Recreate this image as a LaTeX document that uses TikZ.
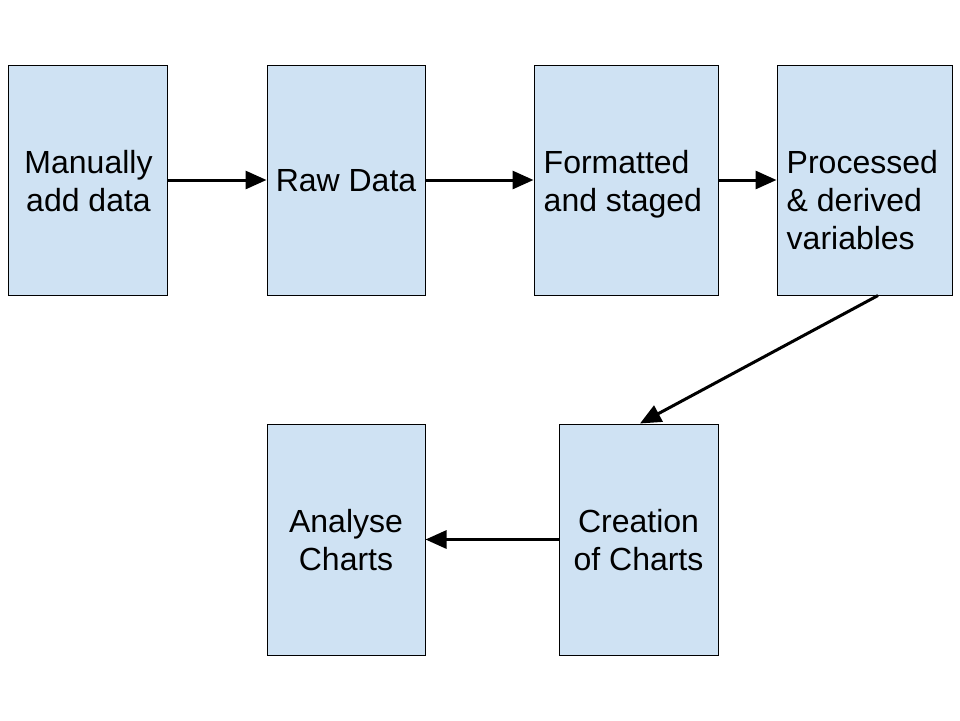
\documentclass[tikz,border=0pt]{standalone}
\usepackage{fontspec}
\setmainfont{Liberation Sans}
\usetikzlibrary{arrows.meta,calc}
\definecolor{boxfill}{HTML}{CFE2F3}
\tikzset{
  flowbox/.style={draw=black, line width=1pt, fill=boxfill, rectangle, inner sep=0pt},
  boxtext/.style={inner sep=0pt, font=\fontsize{32}{38}\selectfont},
  arr/.style={line width=3pt, -{Triangle[length=21pt,width=18pt]}, shorten >=0pt}
}
\begin{document}
\begin{tikzpicture}[x=1pt,y=-1pt]
\useasboundingbox (0,0) rectangle (960,720);
% boxes
\node[flowbox, minimum width=159pt, minimum height=230pt] (b1) at (87.5,180) {};
\node[flowbox, minimum width=158pt, minimum height=230pt] (b2) at (346,180) {};
\node[flowbox, minimum width=184pt, minimum height=230pt] (b3) at (626,180) {};
\node[flowbox, minimum width=175pt, minimum height=230pt] (b4) at (864.5,180) {};
\node[flowbox, minimum width=159pt, minimum height=231pt] (b5) at (638.5,539.5) {};
\node[flowbox, minimum width=158pt, minimum height=231pt] (b6) at (346,539.5) {};
% texts
\node[boxtext, align=center] (t1) at ($(b1.center)+(1,1)$) {Manually\\add data};
\node[boxtext, align=center] (t2) at ($(b2.center)+(0,1)$) {Raw Data};
\node[boxtext, align=left, anchor=west] (t3) at ($(b3.west)+(10,4)$) {Formatted\\and staged};
\node[boxtext, align=left, anchor=west] (t4) at ($(b4.west)+(10,20)$) {Processed\\\& derived\\variables};
\node[boxtext, align=center] (t5) at ($(b5.center)+(0,1)$) {Creation\\of Charts};
\node[boxtext, align=center] (t6) at ($(b6.center)+(0,1)$) {Analyse\\Charts};
% connectors
\coordinate (s4) at ($(b4.south)+(13.5,0)$);
\draw[arr] (b1.east) -- (b2.west);
\draw[arr] (b2.east) -- (b3.west);
\draw[arr] (b3.east) -- (b4.west);
\draw[arr] (s4) -- ($(b5.north)+(1.5,0)$);
\draw[arr] (b5.west) -- (b6.east);
\end{tikzpicture}
\end{document}
